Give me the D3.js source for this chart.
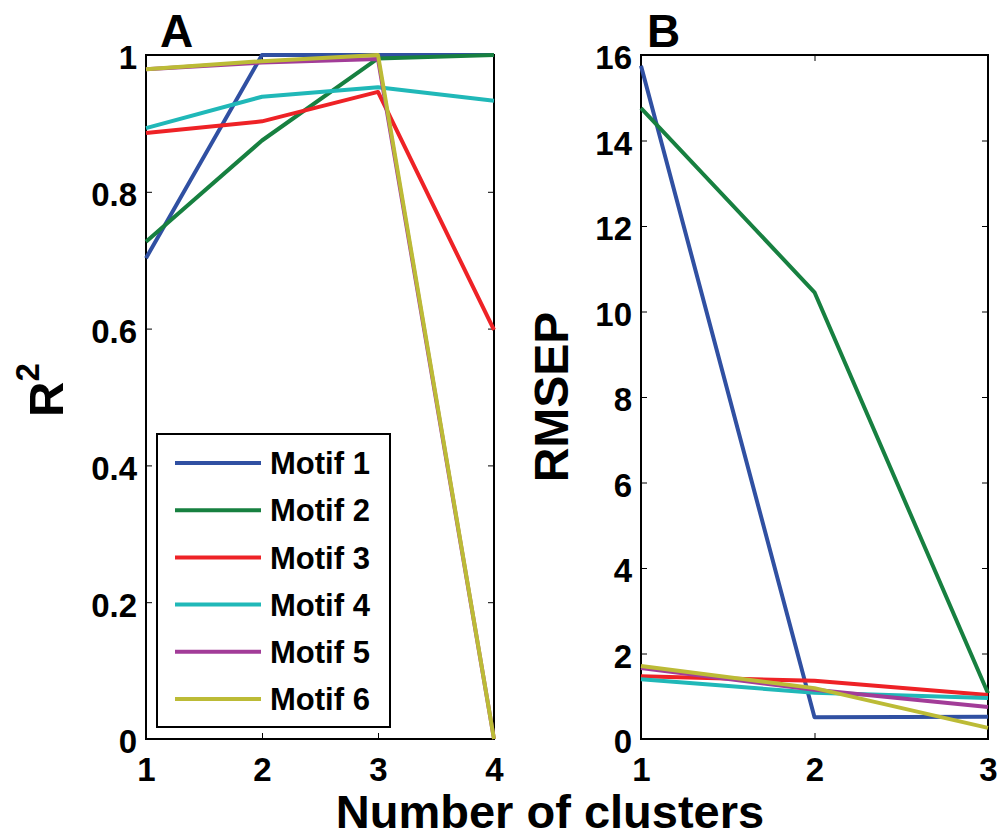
<!DOCTYPE html>
<html>
<head>
<meta charset="utf-8">
<script src="https://cdn.jsdelivr.net/npm/d3@7"></script>
<style>
  body { margin: 0; background: #fff; }
  svg text { font-family: "Liberation Sans", Arial, Helvetica, sans-serif; font-weight: bold; }
</style>
</head>
<body>
<div id="chart"></div>
<script>
// data
var motifs = ["Motif 1", "Motif 2", "Motif 3", "Motif 4", "Motif 5", "Motif 6"];
var colors = ["#3050a2", "#178040", "#ee2226", "#20b8b8", "#a23c98", "#bcbb36"];

var clustersA = [1, 2, 3, 4];
var r2 = [
  [0.703, 1.0, 1.0, 1.0],
  [0.727, 0.875, 0.995, 1.0],
  [0.886, 0.903, 0.946, 0.598],
  [0.893, 0.939, 0.953, 0.933],
  [0.979, 0.989, 0.994, 0.0],
  [0.979, 0.991, 1.0, 0.0]
];
var ticksA = [0, 0.2, 0.4, 0.6, 0.8, 1];

var clustersB = [1, 2, 3];
var rmsep = [
  [15.75, 0.51, 0.52],
  [14.76, 10.45, 1.07],
  [1.47, 1.36, 1.03],
  [1.40, 1.08, 0.96],
  [1.66, 1.15, 0.75],
  [1.71, 1.19, 0.26]
];
var ticksB = [0, 2, 4, 6, 8, 10, 12, 14, 16];

var W = 997, H = 837;
var svg = d3.select("#chart").append("svg")
    .attr("width", W)
    .attr("height", H);

// draws one MATLAB style box axes with lines
function panel(opts) {
  var x = d3.scaleLinear().domain(opts.xDomain).range([opts.left, opts.right]);
  var y = d3.scaleLinear().domain(opts.yDomain).range([opts.bottom, opts.top]);
  var g = svg.append("g");

  // box
  g.append("rect")
    .attr("x", opts.left).attr("y", opts.top)
    .attr("width", opts.right - opts.left)
    .attr("height", opts.bottom - opts.top)
    .attr("fill", "none")
    .attr("stroke", "#000")
    .attr("stroke-width", 2);

  // axes, ticks pointing inward
  var ax = g.append("g")
    .attr("transform", "translate(0," + opts.bottom + ")")
    .call(d3.axisBottom(x).tickValues(opts.xTicks).tickFormat(d3.format("d")).tickSize(-6).tickSizeOuter(0).tickPadding(19));
  var axTop = g.append("g")
    .attr("transform", "translate(0," + opts.top + ")")
    .call(d3.axisTop(x).tickValues(opts.xTicks).tickFormat("").tickSize(-6).tickSizeOuter(0));
  var ay = g.append("g")
    .attr("transform", "translate(" + opts.left + ",0)")
    .call(d3.axisLeft(y).tickValues(opts.yTicks).tickFormat(d3.format("~g")).tickSize(-6).tickSizeOuter(0).tickPadding(9));
  var ayR = g.append("g")
    .attr("transform", "translate(" + opts.right + ",0)")
    .call(d3.axisRight(y).tickValues(opts.yTicks).tickFormat("").tickSize(-6).tickSizeOuter(0));

  [ax, axTop, ay, ayR].forEach(function (a) {
    a.select(".domain").remove();
    a.selectAll(".tick line").attr("stroke", "#000").attr("stroke-width", 1);
    a.selectAll(".tick text")
      .attr("fill", "#000")
      .style("font-size", "33px");
  });
  ay.selectAll(".tick text").attr("dy", "0.42em");

  // lines
  var line = d3.line()
    .x(function (d, i) { return x(opts.xs[i]); })
    .y(function (d) { return y(d); });
  g.selectAll(".series")
    .data(opts.data)
    .enter()
    .append("path")
    .attr("d", line)
    .attr("fill", "none")
    .attr("stroke", function (d, i) { return colors[i]; })
    .attr("stroke-width", 4)
    .attr("stroke-linejoin", "round");

  // panel letter
  g.append("text")
    .attr("x", opts.left + opts.letterDx)
    .attr("y", 47)
    .style("font-size", "46px")
    .text(opts.letter);

  return { x: x, y: y, g: g };
}

var pA = panel({
  left: 146, right: 494, top: 55, bottom: 739,
  xDomain: [1, 4], yDomain: [0, 1],
  xTicks: clustersA, yTicks: ticksA,
  xs: clustersA, data: r2,
  letter: "A", letterDx: 14
});

var pB = panel({
  left: 641, right: 988, top: 55, bottom: 739,
  xDomain: [1, 3], yDomain: [0, 16],
  xTicks: clustersB, yTicks: ticksB,
  xs: clustersB, data: rmsep,
  letter: "B", letterDx: 6
});

// Y axis labels
var r2Label = svg.append("text")
  .attr("transform", "translate(63,390) rotate(-90)")
  .attr("text-anchor", "middle")
  .style("font-size", "49px");
r2Label.append("tspan").text("R");
r2Label.append("tspan")
  .attr("dy", "-0.72em")
  .style("font-size", "33px")
  .text("2");

svg.append("text")
  .attr("transform", "translate(568,397) rotate(-90)")
  .attr("text-anchor", "middle")
  .style("font-size", "48px")
  .text("RMSEP");

// X axis label
svg.append("text")
  .attr("x", 550)
  .attr("y", 828)
  .attr("text-anchor", "middle")
  .style("font-size", "47px")
  .text("Number of clusters");

// legend
var legend = svg.append("g");
legend.append("rect")
  .attr("x", 157).attr("y", 434)
  .attr("width", 233).attr("height", 293)
  .attr("fill", "#fff")
  .attr("stroke", "#000")
  .attr("stroke-width", 2);

var ly = d3.scalePoint().domain(motifs).range([463, 699]);
var items = legend.selectAll(".item")
  .data(motifs)
  .enter()
  .append("g")
  .attr("transform", function (d) { return "translate(0," + ly(d) + ")"; });
items.append("line")
  .attr("x1", 175).attr("x2", 261)
  .attr("stroke", function (d, i) { return colors[i]; })
  .attr("stroke-width", 4);
items.append("text")
  .attr("x", 270)
  .attr("dy", "0.36em")
  .style("font-size", "31px")
  .text(function (d) { return d; });
</script>
</body>
</html>
